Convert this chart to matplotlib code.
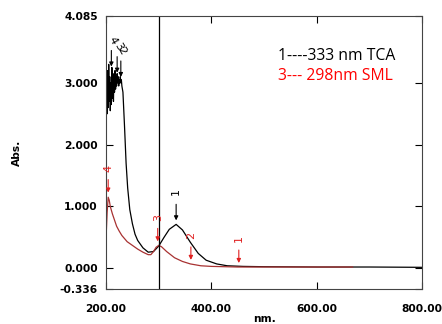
import matplotlib.pyplot as plt

# black trace (TCA)
nmTCA = [200, 201, 202, 203, 204, 205, 206, 207, 208, 209, 210, 211, 212, 213, 214, 215,
         216, 217, 218, 219, 220, 221, 222, 223, 224, 225, 226, 227, 228, 229, 230, 231, 232,
         235, 238, 241, 245, 250, 255, 260, 270, 280, 290, 300, 310, 320, 333, 345, 360,
         375, 390, 410, 430, 460, 500, 600, 700, 800]
absTCA = [2.0, 2.9, 2.5, 3.2, 2.6, 3.3, 2.7, 3.1, 2.55, 3.0, 2.65, 3.25, 2.75, 3.05, 2.7,
          3.15, 2.85, 3.2, 2.9, 3.1, 2.95, 3.15, 3.0, 3.1, 2.95, 3.05, 3.0, 3.1, 3.0, 3.05,
          2.95, 2.9, 2.85, 2.3, 1.7, 1.3, 0.95, 0.72, 0.55, 0.45, 0.33, 0.26, 0.27, 0.36,
          0.5, 0.63, 0.71, 0.62, 0.42, 0.24, 0.13, 0.07, 0.04, 0.03, 0.025, 0.02, 0.02, 0.015]

# red trace (SML)
nmSML = [200, 202, 204, 206, 208, 212, 216, 220, 225, 230, 240, 250, 260, 270, 280, 285,
         290, 295, 300, 305, 315, 330, 345, 360, 380, 400, 450, 500, 600, 668]
absSML = [0.5, 0.9, 1.15, 1.1, 1.0, 0.88, 0.78, 0.68, 0.6, 0.53, 0.43, 0.37, 0.31, 0.26,
          0.22, 0.22, 0.27, 0.34, 0.37, 0.35, 0.27, 0.17, 0.11, 0.07, 0.04, 0.03, 0.02,
          0.02, 0.02, 0.02]

# peak picks: (label, nm, abs at arrow tip)
picksTCA = [("4", 210, 3.22), ("3", 221, 3.12), ("2", 228, 3.05), ("1", 333, 0.73)]
picksSML = [("4", 204, 1.18), ("3", 298, 0.39), ("2", 361, 0.09), ("1", 452, 0.04)]

yticks = [-0.336, 0.0, 1.0, 2.0, 3.0, 4.085]
xticks = [200, 400, 600, 800]

fig = plt.figure(figsize=(4.42, 3.24), dpi=100)
ax = fig.add_axes([0.24, 0.108, 0.715, 0.843])

ax.plot(nmTCA, absTCA, color="black", lw=0.9)
ax.plot(nmSML, absSML, color="#a83232", lw=0.9)
ax.axvline(300, color="black", lw=0.9)

for lab, x, y in picksTCA:
    ax.annotate("", xy=(x, y), xytext=(x, y + 0.35),
                arrowprops=dict(arrowstyle="-|>", color="black", lw=0.8, mutation_scale=6))
    if lab == "1":
        ax.text(x, y + 0.45, lab, rotation=90, ha="center", va="bottom", fontsize=8, color="black")
    else:
        ax.text(x + 2, y + 0.38, lab, rotation=-60, ha="center", va="bottom", fontsize=8, color="black")

for lab, x, y in picksSML:
    ax.annotate("", xy=(x, y), xytext=(x, y + 0.3),
                arrowprops=dict(arrowstyle="-|>", color="#e02020", lw=0.8, mutation_scale=6))
    ax.text(x, y + 0.38, lab, rotation=90, ha="center", va="bottom", fontsize=8, color="#e02020")

ax.text(0.545, 0.84, "1----333 nm TCA", transform=ax.transAxes, fontsize=11.3,
        family="Open Sans", color="black")
ax.text(0.545, 0.765, "3--- 298nm SML", transform=ax.transAxes, fontsize=11.3,
        family="Open Sans", color="red")

ax.set_xlim(200, 800)
ax.set_ylim(-0.336, 4.085)
ax.set_xticks(xticks)
ax.set_xticklabels([f"{v:.2f}" for v in xticks], fontweight="bold", fontsize=7.7)
ax.set_yticks(yticks)
ax.set_yticklabels([f"{v:.3f}" for v in yticks], fontweight="bold", fontsize=7.7)
ax.tick_params(direction="in", top=True, right=True, length=5, width=0.8)
ax.tick_params(axis="y", pad=6)
ax.tick_params(axis="x", pad=11)
for s in ax.spines.values():
    s.set_linewidth(0.8)
    s.set_color("#444444")

ax.set_xlabel("nm.", fontweight="bold", fontsize=7.7, labelpad=0)
ax.set_ylabel("Abs.", fontweight="bold", fontsize=7.7, labelpad=27)

fig.savefig("out.png", dpi=100)
